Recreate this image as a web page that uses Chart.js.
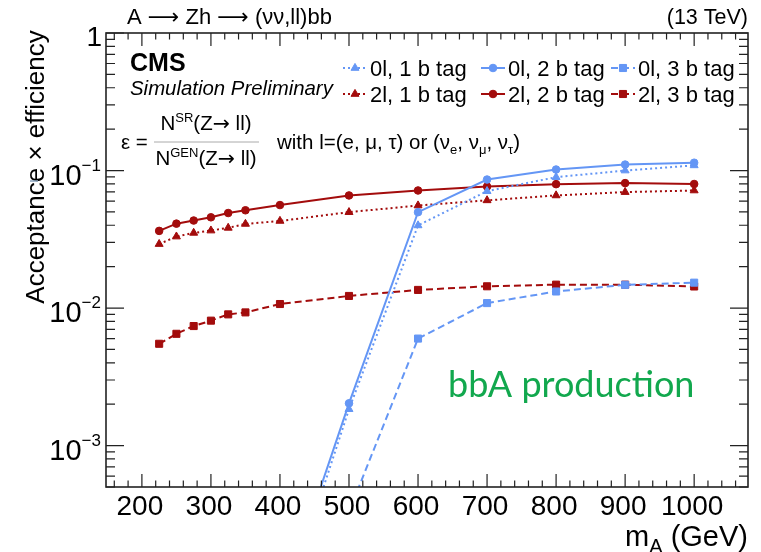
<!DOCTYPE html>
<html>
<head>
<meta charset="utf-8">
<script src="https://cdn.jsdelivr.net/npm/chart.js@4.4.0/dist/chart.umd.min.js"></script>
<style>
  html, body { margin: 0; padding: 0; background: #fff; }
</style>
</head>
<body>
<canvas id="accChart" width="761" height="552"></canvas>
<script>
// signal mass points (GeV)
const massPoints = [225, 250, 275, 300, 325, 350, 400, 500, 600, 700, 800, 900, 1000];

const seriesLabels = ['0l, 1 b tag', '0l, 2 b tag', '0l, 3 b tag', '2l, 1 b tag', '2l, 2 b tag', '2l, 3 b tag'];

// acceptance x efficiency (null = no point)
const zeroLep1b = [null, null, null, null, null, null, 0.000054, 0.00184, 0.0399, 0.0708, 0.0895, 0.100, 0.109];
const zeroLep2b = [null, null, null, null, null, null, 0.000066, 0.00203, 0.0498, 0.0860, 0.1017, 0.1105, 0.114];
const zeroLep3b = [null, null, null, null, null, null, null, 0.00033, 0.0060, 0.01087, 0.0132, 0.01475, 0.0153];
const twoLep1b  = [0.0292, 0.0331, 0.0352, 0.0366, 0.0383, 0.0409, 0.0430, 0.0498, 0.0557, 0.0607, 0.0659, 0.0697, 0.0716];
const twoLep2b  = [0.0364, 0.0411, 0.0433, 0.0457, 0.0491, 0.0514, 0.0561, 0.0659, 0.0716, 0.0765, 0.0796, 0.0810, 0.0798];
const twoLep3b  = [0.0055, 0.0065, 0.0074, 0.0081, 0.0090, 0.0093, 0.0107, 0.01225, 0.01355, 0.0144, 0.0148, 0.0148, 0.01435];

// axis ticks
const xTickValues = [200, 300, 400, 500, 600, 700, 800, 900, 1000];
const yTickValues = [1, 0.1, 0.01, 0.001];
const yTickExponents = ['', '\u22121', '\u22122', '\u22123'];

const BLUE = '#6496f5';
const RED = '#a30c0c';
const FONT = '"Liberation Sans", Arial, Helvetica, sans-serif';
const ARROW_FONT = '"DejaVu Sans", sans-serif';

function mkData(vals) {
    return massPoints.map((m, i) => ({x: m, y: vals[i]}));
}

function makeSet(label, vals, color, style, dash, radius) {
    return {
        label: label,
        data: mkData(vals),
        borderColor: color,
        backgroundColor: color,
        pointBackgroundColor: color,
        pointBorderColor: color,
        pointStyle: style,
        pointRadius: radius,
        pointBorderWidth: 1,
        borderWidth: 2,
        borderDash: dash,
        tension: 0,
        spanGaps: false
    };
}

const DOT = [2, 3];
const DASH = [7, 4];

const datasets = [
    makeSet(seriesLabels[0], zeroLep1b, BLUE, 'triangle', DOT, 4.6),
    makeSet(seriesLabels[1], zeroLep2b, BLUE, 'circle', [], 3.8),
    makeSet(seriesLabels[2], zeroLep3b, BLUE, 'rect', DASH, 5),
    makeSet(seriesLabels[3], twoLep1b, RED, 'triangle', DOT, 4.6),
    makeSet(seriesLabels[4], twoLep2b, RED, 'circle', [], 3.8),
    makeSet(seriesLabels[5], twoLep3b, RED, 'rect', DASH, 5)
];

function partFont(p) {
    return (p[3] || '') + ' ' + p[1] + 'px ' + (p[4] || FONT);
}

// draw a run of text pieces: [text, size, dy, style, family]
function drawRich(ctx, parts, x, y, align) {
    let total = 0;
    parts.forEach(p => {
        ctx.font = partFont(p);
        total += ctx.measureText(p[0]).width;
    });
    let cx = x;
    if (align === 'right') cx = x - total;
    if (align === 'center') cx = x - total / 2;
    ctx.textAlign = 'left';
    ctx.textBaseline = 'alphabetic';
    parts.forEach(p => {
        ctx.font = partFont(p);
        ctx.fillText(p[0], cx, y + (p[2] || 0));
        cx += ctx.measureText(p[0]).width;
    });
    return total;
}

const framePlugin = {
    id: 'framePlugin',
    afterDatasetsDraw(chart) {
        const {ctx, chartArea: a, scales: {x, y}} = chart;
        ctx.save();
        ctx.fillStyle = '#000';
        ctx.strokeStyle = '#222';
        ctx.setLineDash([]);

        // frame
        ctx.lineWidth = 1.6;
        ctx.strokeRect(a.left, a.top, a.right - a.left, a.bottom - a.top);

        // x ticks (inside, bottom and top)
        ctx.lineWidth = 1.2;
        ctx.beginPath();
        for (let v = 160; v <= x.max; v += 20) {
            const px = x.getPixelForValue(v);
            const len = xTickValues.includes(v) ? 13 : 6.5;
            ctx.moveTo(px, a.bottom); ctx.lineTo(px, a.bottom - len);
            ctx.moveTo(px, a.top); ctx.lineTo(px, a.top + len);
        }
        // y ticks (inside, left and right)
        for (let e = -4; e <= 0; e++) {
            for (let k = 1; k <= 9; k++) {
                const v = k * Math.pow(10, e);
                if (v < y.min * 0.999 || v > y.max * 1.001) continue;
                const py = y.getPixelForValue(v);
                const len = k === 1 ? 18 : 9;
                ctx.moveTo(a.left, py); ctx.lineTo(a.left + len, py);
                ctx.moveTo(a.right, py); ctx.lineTo(a.right - len, py);
            }
        }
        ctx.stroke();

        // x tick labels
        ctx.fillStyle = '#000';
        xTickValues.forEach(v => {
            drawRich(ctx, [[String(v), 28, 0]], x.getPixelForValue(v) - 2, 515, 'center');
        });
        // y tick labels
        yTickValues.forEach((v, i) => {
            const py = y.getPixelForValue(v);
            if (yTickExponents[i] === '') {
                drawRich(ctx, [['1', 28, 0]], 102, py + 12.5, 'right');
            } else {
                drawRich(ctx, [['10', 29, 0], [yTickExponents[i], 17, -14]], 101, py + 14, 'right');
            }
        });

        // axis titles
        drawRich(ctx, [['m', 29, 0], ['A', 20, 7], [' (GeV)', 29, 0]], 748, 546, 'right');
        ctx.save();
        ctx.translate(44, 167);
        ctx.rotate(-Math.PI / 2);
        drawRich(ctx, [['Acceptance \u00d7 efficiency', 26, 0]], 0, 0, 'center');
        ctx.restore();

        // header
        drawRich(ctx, [
            ['A ', 22, 0], ['\u27f6', 22, 0, '', ARROW_FONT], [' Zh ', 22, 0],
            ['\u27f6', 22, 0, '', ARROW_FONT], [' (\u03bd\u03bd,ll)bb', 22, 0]
        ], 127, 24, 'left');
        drawRich(ctx, [['(13 TeV)', 21.5, 0]], 748, 24, 'right');

        // CMS labels
        drawRich(ctx, [['CMS', 25, 0, 'bold']], 130, 71, 'left');
        drawRich(ctx, [['Simulation Preliminary', 20.4, 0, 'italic']], 130, 95, 'left');

        // formula
        drawRich(ctx, [['\u03b5 =', 20.5, 0]], 121, 149, 'left');
        drawRich(ctx, [['N', 20.5, 0], ['SR', 13, -8], ['(Z', 20.5, 0], ['\u2192', 20.5, 0, '', ARROW_FONT], [' ll)', 20.5, 0]], 206, 130, 'center');
        drawRich(ctx, [['N', 20.5, 0], ['GEN', 13, -8], ['(Z', 20.5, 0], ['\u2192', 20.5, 0, '', ARROW_FONT], [' ll)', 20.5, 0]], 206, 165, 'center');
        ctx.strokeStyle = '#aaa';
        ctx.lineWidth = 1;
        ctx.beginPath();
        ctx.moveTo(154, 142); ctx.lineTo(259, 142);
        ctx.stroke();
        drawRich(ctx, [
            ['with l=(e, \u03bc, \u03c4) or (\u03bd', 20.5, 0], ['e', 13, 5], [', \u03bd', 20.5, 0],
            ['\u03bc', 13, 5], [', \u03bd', 20.5, 0], ['\u03c4', 13, 5], [')', 20.5, 0]
        ], 277, 149, 'left');

        // legend
        const colX = [355, 493, 623];
        const rowY = [68, 94];
        chart.data.datasets.forEach((ds, i) => {
            const cx = colX[i % 3];
            const cy = rowY[Math.floor(i / 3)];
            ctx.strokeStyle = ds.borderColor;
            ctx.fillStyle = ds.backgroundColor;
            ctx.lineWidth = 2;
            ctx.setLineDash(ds.borderDash);
            ctx.beginPath();
            ctx.moveTo(cx - 12, cy); ctx.lineTo(cx + 12, cy);
            ctx.stroke();
            ctx.setLineDash([]);
            ctx.lineWidth = 1;
            Chart.helpers.drawPoint(ctx, {pointStyle: ds.pointStyle, radius: ds.pointRadius, rotation: 0, borderWidth: 1}, cx, cy);
            ctx.fillStyle = '#000';
            drawRich(ctx, [[ds.label, 22, 0]], cx + 15, cy + 7.5, 'left');
        });

        // production label
        ctx.fillStyle = '#12a84e';
        ctx.font = '36px Lato, "Open Sans", sans-serif';
        ctx.textAlign = 'left';
        ctx.fillText('bbA production', 448, 397);

        // small mark left of the axis title
        ctx.strokeStyle = '#8aa4bf';
        ctx.lineWidth = 1.5;
        ctx.beginPath();
        ctx.moveTo(30, 181); ctx.lineTo(38, 181);
        ctx.stroke();

        ctx.restore();
    }
};

const ctx = document.getElementById('accChart').getContext('2d');
const accChart = new Chart(ctx, {
    type: 'line',
    data: {datasets: datasets},
    options: {
        responsive: false,
        animation: false,
        devicePixelRatio: 1,
        layout: {padding: {left: 106, right: 13, top: 33, bottom: 65}},
        scales: {
            x: {type: 'linear', min: 148, max: 1078, display: false},
            y: {type: 'logarithmic', min: 0.0005, max: 1, display: false}
        },
        plugins: {
            legend: {display: false},
            tooltip: {enabled: false}
        }
    },
    plugins: [framePlugin]
});
</script>
</body>
</html>
